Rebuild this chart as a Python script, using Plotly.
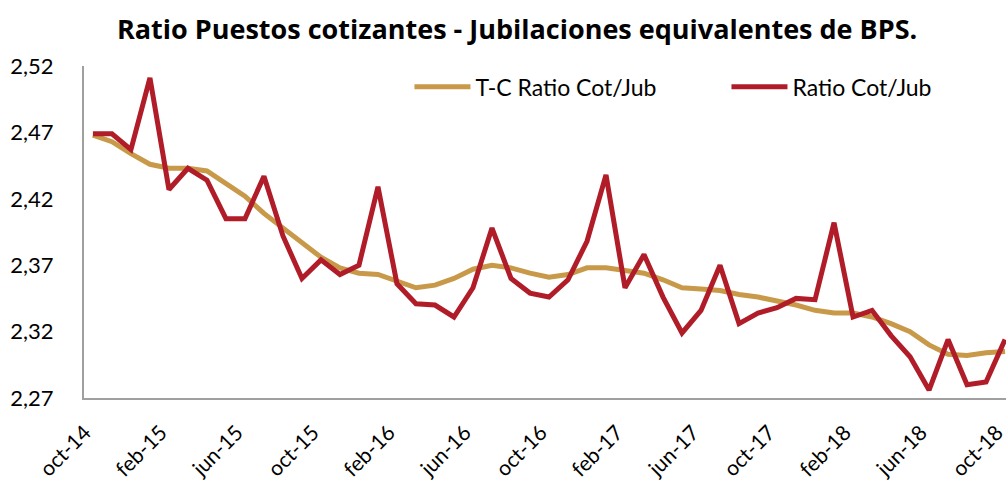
import plotly.graph_objects as go

months = []
names = ["ene", "feb", "mar", "abr", "may", "jun", "jul", "ago", "set", "oct", "nov", "dic"]
for k in range(49):
    m = (9 + k) % 12
    y = 14 + (9 + k) // 12
    months.append(f"{names[m]}-{y}")

ratio = [2.469, 2.469, 2.457, 2.511, 2.427, 2.443, 2.434, 2.405, 2.405, 2.437,
         2.392, 2.360, 2.374, 2.363, 2.370, 2.429, 2.356, 2.341, 2.340, 2.331,
         2.353, 2.398, 2.360, 2.349, 2.346, 2.359, 2.388, 2.438, 2.353, 2.378,
         2.346, 2.319, 2.336, 2.370, 2.326, 2.334, 2.338, 2.345, 2.344, 2.402,
         2.331, 2.336, 2.317, 2.301, 2.276, 2.314, 2.280, 2.282, 2.314]

trend = [2.468, 2.463, 2.454, 2.446, 2.443, 2.443, 2.441, 2.432, 2.422, 2.409,
         2.398, 2.387, 2.376, 2.368, 2.364, 2.363, 2.358, 2.353, 2.355, 2.360,
         2.367, 2.370, 2.368, 2.364, 2.361, 2.363, 2.368, 2.368, 2.366, 2.364,
         2.359, 2.353, 2.352, 2.351, 2.348, 2.346, 2.343, 2.340, 2.336, 2.334,
         2.334, 2.331, 2.326, 2.320, 2.310, 2.303, 2.302, 2.304, 2.305]

tick_labels = [months[i] for i in range(0, 49, 4)]

GOLD = "#C9994A"
RED = "#B01C28"
FONT = "Lato"

fig = go.Figure()
fig.add_trace(go.Scatter(x=months, y=trend, mode="lines", name="T-C Ratio Cot/Jub",
                         line=dict(color=GOLD, width=5)))
fig.add_trace(go.Scatter(x=months, y=ratio, mode="lines", name="Ratio Cot/Jub",
                         line=dict(color=RED, width=5)))

fig.update_layout(
    width=1006, height=490,
    margin=dict(l=84, r=0, t=66, b=92, autoexpand=False),
    paper_bgcolor="white", plot_bgcolor="white",
    separators=",.",
    font=dict(family=FONT, color="black"),
    title=dict(text="<b>Ratio Puestos cotizantes - Jubilaciones equivalentes de BPS.</b>",
               x=0.514, xanchor="center", y=0.939, yanchor="middle",
               font=dict(size=27, family="Open Sans", color="black")),
    showlegend=True,
    legend=dict(orientation="h", x=0.353, xanchor="left", y=0.937, yanchor="middle",
                font=dict(size=23, family=FONT, color="black"),
                itemwidth=56, entrywidth=246, entrywidthmode="pixels",
                bgcolor="rgba(0,0,0,0)"),
    xaxis=dict(type="category", range=[-0.47, 48.05], automargin=False,
               tickmode="array", tickvals=tick_labels, ticktext=tick_labels,
               tickangle=-45, tickfont=dict(size=21, family=FONT),
               ticklabelstandoff=12, ticklabelshift=-8,
               showgrid=False, showline=True, linecolor="#A0A0A0", linewidth=2,
               ticks="", zeroline=False),
    yaxis=dict(range=[2.27, 2.52], tickmode="array", automargin=False,
               tickvals=[2.27, 2.32, 2.37, 2.42, 2.47, 2.52],
               tickformat=".2f", tickfont=dict(size=22, family=FONT),
               showgrid=False, showline=True, linecolor="#A0A0A0", linewidth=2,
               ticks="", zeroline=False, ticklabelstandoff=24),
)

fig.write_html(
    "out.html",
    config={"displayModeBar": False},
    post_script="document.body.style.margin='0';document.body.style.overflow='hidden';",
)
